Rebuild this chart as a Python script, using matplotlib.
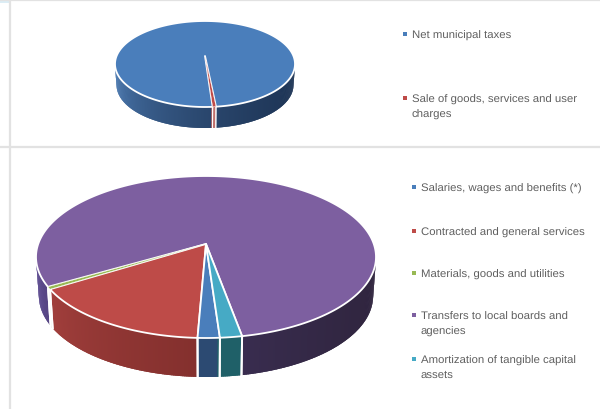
import numpy as np
import matplotlib
matplotlib.use("Agg")
import matplotlib.pyplot as plt
from matplotlib.colors import to_rgb

plt.rcParams['font.family'] = ['Liberation Sans', 'DejaVu Sans']
plt.rcParams['text.hinting'] = 'none'

# revenue split
revenue_labels = ["Net municipal taxes", "Sale of goods, services and user\ncharges"]
revenue_values = [99.4, 0.6]
revenue_colors = ["#4a7ebb", "#be4b48"]
revenue_sides = [("#4f7fb8", "#1e3556"), ("#c0706c", "#c0706c")]

# expense split
expense_labels = ["Salaries, wages and benefits (*)", "Contracted and general services",
                  "Materials, goods and utilities", "Transfers to local boards and\nagencies",
                  "Amortization of tangible capital\nassets"]
expense_values = [2.1, 17.7, 0.5, 77.6, 2.1]
expense_colors = ["#4a7ebb", "#be4b48", "#98b954", "#7d5fa0", "#46aac5"]
expense_sides = [("#2c4a72", "#2c4a72"), ("#b04643", "#742826"), ("#6f8a3c", "#6f8a3c"),
                 ("#604e96", "#30253f"), ("#1f6068", "#1f6068")]

revenue_y = [35, 99]
expense_y = [188, 231.5, 274, 316, 359.5]


def mix(c1, c2, t):
    a, b = np.array(to_rgb(c1)), np.array(to_rgb(c2))
    return a + (b - a) * t


def pie3d(ax, values, colors, sides, apex, center, rx, ry, depth, start):
    # angles run clockwise from the front of the ellipse
    edges = start + np.cumsum([0] + list(values)) / sum(values) * 2 * np.pi

    def rim(a):
        return center[0] - rx * np.sin(a), center[1] + ry * np.cos(a)

    def foot(a):
        # lower rim sits a little narrower because of the perspective
        return center[0] - 0.983 * rx * np.sin(a), center[1] + ry * np.cos(a) + depth

    # side wall, only the part facing the viewer
    for i in range(len(values)):
        a0, a1 = edges[i], edges[i + 1]
        aa = np.linspace(a0, a1, max(int((a1 - a0) * 90), 2) + 1)
        for p, q in zip(aa[:-1], aa[1:]):
            # wrap into -pi..pi so the visible half is |a| < pi/2
            m = (0.5 * (p + q) + np.pi) % (2 * np.pi) - np.pi
            if abs(m) > np.pi / 2:
                continue
            x0, y0 = rim(p)
            x1, y1 = rim(q + 0.015)
            x2, y2 = foot(q + 0.015)
            x3, y3 = foot(p)
            t = ((m + np.pi / 2) / np.pi) ** 2      # 0 right side, 1 left side
            ax.fill([x0, x1, x2, x3], [y0, y1, y2, y3], color=mix(sides[i][1], sides[i][0], t),
                    lw=0, zorder=2)
        # white seams at slice borders
        seam = 0.7 if min(values) < 1 and len(values) == 2 else 1.4
        for a in (a0, a1):
            m = (a + np.pi) % (2 * np.pi) - np.pi
            if abs(m) < np.pi / 2:
                x, y = rim(a)
                xb, yb = foot(a)
                ax.plot([x, xb], [y, yb], color="white", lw=seam, zorder=3)

    # top face, very thin slices go last so their colour stays visible
    order = sorted(range(len(values)), key=lambda k: -values[k])
    for i in order:
        aa = np.linspace(edges[i], edges[i + 1], 200)
        xs, ys = rim(aa)
        lw = 0.3 if values[i] < 1 else 1.3
        ax.fill(np.r_[apex[0], xs], np.r_[apex[1], ys], facecolor=colors[i],
                edgecolor="white", lw=lw, joinstyle="round", zorder=4)


def legend(ax, labels, colors, ys, x):
    for lab, col, y in zip(labels, colors, ys):
        ax.scatter([x], [y], marker="s", s=7, color=col, lw=0, zorder=5)
        ax.text(x + 7, y - 4, lab, fontsize=8.2, color="#5f5f5f", va="top", ha="left",
                linespacing=1.55, zorder=5)


fig = plt.figure(figsize=(6.0, 4.1), dpi=100)
ax = fig.add_axes([0, 0, 1, 1])
ax.set_xlim(0, 600)
ax.set_ylim(410, 0)
ax.axis("off")

# panel rules
ax.plot([0, 600], [0.5, 0.5], color="#e2e2e2", lw=1.6)
ax.plot([0, 600], [147.5, 147.5], color="#e2e2e2", lw=1.6)
ax.plot([10, 10], [0, 410], color="#e2e2e2", lw=1.6)
ax.fill([0, 9, 9, 0], [0, 0, 4, 4], color="#dcedf5", lw=0)

pie3d(ax, revenue_values, revenue_colors, revenue_sides, (205, 57), (205, 65), 90, 43, 21, -0.085)
pie3d(ax, expense_values, expense_colors, expense_sides, (206, 245), (206, 258), 170, 81, 39, -np.radians(4.7))

legend(ax, revenue_labels, revenue_colors, revenue_y, 405)
legend(ax, expense_labels, expense_colors, expense_y, 414)

fig.savefig("out.png", dpi=100)
